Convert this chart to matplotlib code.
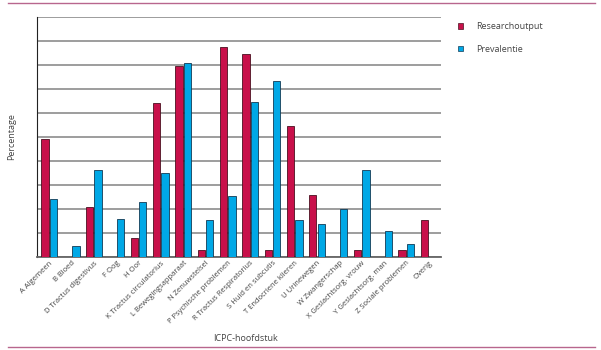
import matplotlib

matplotlib.use("Agg")
import matplotlib.pyplot as plt
import numpy as np
from matplotlib.lines import Line2D
from matplotlib.patches import Patch

categories = ["A Algemeen", "B Bloed", "D Tractus digestivus", "F Oog", "H Oor",
              "K Tractus circulatorius", "L Bewegingsapparaat", "N Zenuwstelsel",
              "P Psychische problemen", "R Tractus Respiratorius", "S Huid en subcutis",
              "T Endocriene klieren", "U Urinewegen", "W Zwangerschap",
              "X Geslachtsorg. vrouw", "Y Geslachtsorg. man", "Z Sociale problemen", "Overig"]
research = [4.9, 0.0, 2.1, 0.0, 0.78, 6.44, 7.97, 0.28, 8.75, 8.48, 0.28, 5.44,
            2.59, 0.0, 0.28, 0.0, 0.28, 1.54]
prevalentie = [2.42, 0.46, 3.62, 1.59, 2.29, 3.5, 8.1, 1.52, 2.55, 6.48, 7.33, 1.52,
               1.36, 2.0, 3.62, 1.08, 0.54, 0.0]

RED = "#c8104a"
BLUE = "#00a8e6"
TXT = "#444444"

plt.rcParams["font.family"] = ["Open Sans", "DejaVu Sans"]

fig = plt.figure(figsize=(6.01, 3.5), dpi=100)
ax = fig.add_axes([0.0616, 0.266, 0.672, 0.685])

x = np.arange(len(categories))
w = 0.33
ax.bar(x - 0.19, research, w, color=RED, edgecolor="#4a1020", lw=0.6, zorder=3)
ax.bar(x + 0.19, prevalentie, w, color=BLUE, edgecolor="#123a55", lw=0.6, zorder=3)

ax.set_xlim(-0.55, len(categories) - 0.45)
ax.set_ylim(0, 10)
ax.set_yticks(np.arange(0, 11, 1))
ax.yaxis.grid(True, color="#8c8c8c", lw=1.2, zorder=0)
ax.tick_params(axis="y", length=0, labelleft=False)
ax.tick_params(axis="x", length=0, pad=2)
ax.set_xticks(x)
ax.set_xticklabels(categories, rotation=45, ha="right", rotation_mode="anchor",
                   fontsize=5.5, color=TXT)
for s in ["top", "right"]:
    ax.spines[s].set_visible(False)
ax.spines["left"].set_color("#222222")
ax.spines["bottom"].set_color("#666666")
ax.spines["bottom"].set_linewidth(1.3)

fig.text(0.02, 0.61, "Percentage", rotation=90, ha="center", va="center",
         fontsize=6.5, color=TXT)
fig.text(0.408, 0.032, "ICPC-hoofdstuk", ha="center", va="center", fontsize=6.5, color=TXT)

handles = [Patch(facecolor=RED, edgecolor="#4a1020", lw=0.5),
           Patch(facecolor=BLUE, edgecolor="#123a55", lw=0.5)]
fig.legend(handles, ["Researchoutput", "Prevalentie"], loc="upper left",
           bbox_to_anchor=(0.748, 0.96), frameon=False, fontsize=6.5,
           handlelength=0.6, handleheight=0.6, labelspacing=1.5, handletextpad=1.4,
           labelcolor=TXT)

for yy in (0.991, 0.009):
    fig.add_artist(Line2D([0.013, 0.99], [yy, yy], color="#b8668e", lw=1.0))

fig.savefig("out.png", dpi=100)
